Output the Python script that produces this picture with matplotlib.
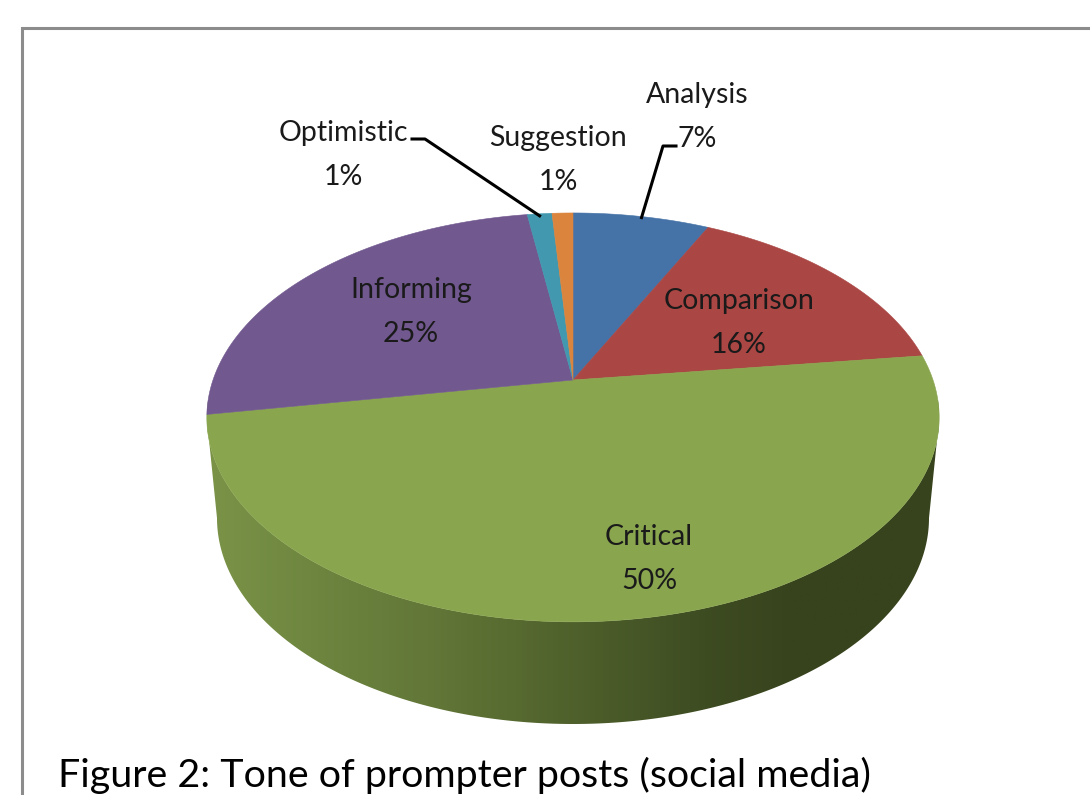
import numpy as np
import matplotlib
matplotlib.use("Agg")
import matplotlib.pyplot as plt
from matplotlib.colors import LinearSegmentedColormap
from matplotlib.patches import Polygon

categories = ["Analysis", "Comparison", "Critical", "Informing", "Optimistic", "Suggestion"]
values = [7.2, 15.8, 49.3, 25.3, 1.3, 1.1]
pct_labels = ["7%", "16%", "50%", "25%", "1%", "1%"]
colors = ["#4572a7", "#aa4643", "#89a54e", "#71588f", "#4198af", "#db843d"]
label_pos = [(697, 117), (739, 323), (649, 559), (411, 312), (343, 155), (558, 160)]
title = "Figure 2: Tone of prompter posts (social media)"

# top face is a circle seen in perspective, apex sits above the ellipse centre
CX, CY = 573, 380
PERSP = 0.183
RY = 197.6
RX = 360


def project(theta):
    # theta is degrees clockwise from twelve o'clock
    t = np.radians(theta)
    u, v = np.sin(t), np.cos(t)
    w = 1 + PERSP * v
    return CX + RX * u / w, CY - RY * v / w


plt.rcParams['font.family'] = ['Lato', 'DejaVu Sans']
fig = plt.figure(figsize=(10.9, 7.95), dpi=100)
ax = fig.add_axes([0, 0, 1, 1])
ax.set_xlim(0, 1090)
ax.set_ylim(795, 0)
ax.axis("off")

# frame
ax.plot([22, 22, 1090], [795, 28, 28], color="#8c8c8c", lw=2.2, solid_joinstyle="miter")

# side wall
t = np.linspace(90, 270, 300)
top_x, top_y = project(t)
bot_x = 573 + 356 * np.sin(np.radians(t))
bot_y = 518 - 206 * np.cos(np.radians(t))
wall = np.column_stack([np.r_[top_x[np.argmax(top_x)], bot_x, top_x[np.argmin(top_x)], top_x[::-1]],
                        np.r_[top_y[np.argmax(top_x)], bot_y, top_y[np.argmin(top_x)], top_y[::-1]]])
wall_cmap = LinearSegmentedColormap.from_list("wall", [
    (0.0, "#7a9347"), (0.15, "#6d853f"), (0.3, "#627738"), (0.42, "#576a30"),
    (0.55, "#4a5b29"), (0.68, "#3e4c22"), (0.8, "#37431d"), (1.0, "#37431d")])
img = ax.imshow(np.linspace(0, 1, 400).reshape(1, -1), cmap=wall_cmap, aspect="auto",
                extent=(207, 939, 730, 400), zorder=1)
clip = Polygon(wall, closed=True, transform=ax.transData, fc="none", ec="none")
ax.add_patch(clip)
img.set_clip_path(clip)
ax.set_xlim(0, 1090)
ax.set_ylim(795, 0)

# top face
edges = np.r_[0, np.cumsum(values)] / sum(values) * 360
for i in range(len(values)):
    t = np.linspace(edges[i], edges[i + 1], 200)
    x, y = project(t)
    ax.fill(np.r_[CX, x], np.r_[CY, y], color=colors[i], lw=0.4, zorder=2)

# leader lines for the two labels that sit outside and need one
mids = (edges[:-1] + edges[1:]) / 2
ax_x, ax_y = project(mids[0])
ax.plot([676, 663, ax_x], [146, 146, ax_y + 1], color="black", lw=2.2, zorder=3)
op_x, op_y = project(mids[4])
ax.plot([412, 425, op_x], [139, 139, op_y + 2], color="black", lw=2.2, zorder=3)

for name, pct, (lx, ly) in zip(categories, pct_labels, label_pos):
    ax.text(lx, ly, name + "\n" + pct, ha="center", va="center", fontsize=20.5,
            linespacing=1.9, color="#1a1a1a", zorder=4)

ax.text(58, 787, title, ha="left", va="baseline", fontsize=28.4, color="black")

fig.savefig("out.png", dpi=100)
